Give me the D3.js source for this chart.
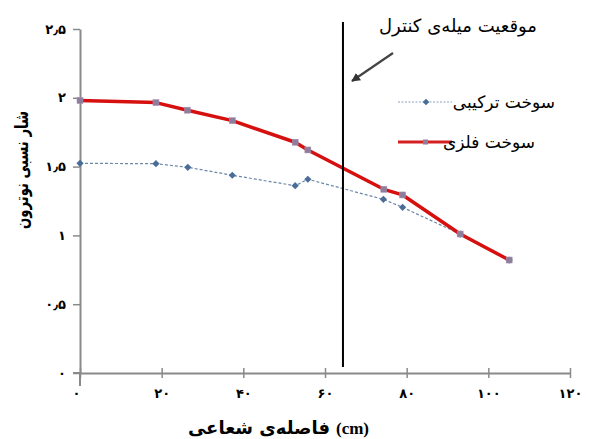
<!DOCTYPE html>
<html><head><meta charset="utf-8">
<script src="https://cdnjs.cloudflare.com/ajax/libs/d3/7.8.5/d3.min.js"></script>
<style>
html,body{margin:0;padding:0;background:#fff;}
svg{display:block;}
</style></head>
<body>
<svg id="c" width="598" height="439"></svg>
<script>
// Data
const xTicks = [0, 20, 40, 60, 80, 100, 120];
const xTickLabels = ["۰", "۲۰", "۴۰", "۶۰", "۸۰", "۱۰۰", "۱۲۰"];
const yTicks = [0, 0.5, 1, 1.5, 2, 2.5];
const yTickLabels = ["۰", "۰٫۵", "۱", "۱٫۵", "۲", "۲٫۵"];
const seriesNames = ["سوخت ترکیبی", "سوخت فلزی"];
const metalX = [0, 18.6, 26.3, 37.3, 52.7, 55.8, 74.4, 79.0, 93.1, 105.1];
const metalY = [1.98, 1.965, 1.91, 1.834, 1.677, 1.621, 1.335, 1.294, 1.01, 0.821];
const compX = [0, 18.6, 26.4, 37.3, 52.7, 55.8, 74.3, 79.0, 93.1, 105.1];
const compY = [1.524, 1.521, 1.495, 1.437, 1.361, 1.408, 1.262, 1.204, 1.01, 0.821];
const controlRodX = 64.4;
const annotation = "موقعیت میله‌ی کنترل";
const xTitleFa = "فاصله‌ی شعاعی";
const xTitleUnit = "(cm)";
const yTitle = "شار نسبی نوترون";

const svg = d3.select("#c");
const x = d3.scaleLinear().domain([0, 120]).range([80, 570]);
const y = d3.scaleLinear().domain([0, 2.5]).range([373, 29]);
const axisColor = "#8a8a8a";
const font = "'DejaVu Sans', sans-serif";

// axes
const xa = svg.append("g").attr("transform", "translate(0,373)")
  .call(d3.axisBottom(x).tickValues(xTicks).tickFormat((d, i) => xTickLabels[i]).tickSizeInner(5).tickSizeOuter(0));
xa.select(".domain").attr("stroke", axisColor).attr("stroke-width", 2);
xa.selectAll(".tick line").attr("stroke", axisColor).attr("stroke-width", 1.5).attr("y1", -5).attr("y2", 5);
xa.selectAll(".tick text").attr("font-family", font).attr("font-size", 13).attr("font-weight", "bold").attr("fill", "#000").attr("y", 16);
xa.select(".tick text").attr("x", -4);

const ya = svg.append("g").attr("transform", "translate(80,0)")
  .call(d3.axisLeft(y).tickValues(yTicks).tickFormat((d, i) => yTickLabels[i]).tickSizeInner(7).tickSizeOuter(0));
ya.select(".domain").attr("stroke", axisColor).attr("stroke-width", 2);
ya.selectAll(".tick line").attr("stroke", axisColor).attr("stroke-width", 1.5);
ya.selectAll(".tick text").attr("font-family", font).attr("font-size", 13).attr("font-weight", "bold").attr("fill", "#000").attr("x", -14);
// extend axes slightly
svg.append("line").attr("x1", 80).attr("x2", 80).attr("y1", 373).attr("y2", 386).attr("stroke", axisColor).attr("stroke-width", 2);
svg.append("line").attr("x1", 73).attr("x2", 80).attr("y1", 373).attr("y2", 373).attr("stroke", axisColor).attr("stroke-width", 2);

// compound fuel series
const comp = compX.map((v, i) => [v, compY[i]]);
const metal = metalX.map((v, i) => [v, metalY[i]]);
const line = d3.line().x(d => x(d[0])).y(d => y(d[1]));

svg.append("path").attr("d", line(comp)).attr("fill", "none")
  .attr("stroke", "#6c88a8").attr("stroke-width", 1.2).attr("stroke-dasharray", "3,2");
svg.selectAll(".cm").data(comp).enter().append("path")
  .attr("transform", d => `translate(${x(d[0])},${y(d[1])}) rotate(45)`)
  .attr("d", d3.symbol(d3.symbolSquare, 26)()).attr("fill", "#4a6d98");

// metal fuel series
svg.append("path").attr("d", line(metal)).attr("fill", "none")
  .attr("stroke", "#d60f0f").attr("stroke-width", 3.5).attr("stroke-linejoin", "round");
svg.selectAll(".mm").data(metal).enter().append("rect")
  .attr("x", d => x(d[0]) - 3).attr("y", d => y(d[1]) - 3).attr("width", 6).attr("height", 6)
  .attr("fill", "#8e7d9c").attr("stroke", "#a58fb0").attr("stroke-width", 0.5);

// control rod line
svg.append("line").attr("x1", x(controlRodX)).attr("x2", x(controlRodX))
  .attr("y1", 22).attr("y2", 367).attr("stroke", "#000").attr("stroke-width", 2);

// annotation
svg.append("text").attr("x", 537).attr("y", 32).attr("text-anchor", "end")
  .attr("font-family", font).attr("font-size", 18).attr("fill", "#000")
  .text(annotation);
svg.append("defs").append("marker").attr("id", "ah").attr("viewBox", "0 0 10 10")
  .attr("refX", 9).attr("refY", 5).attr("markerWidth", 4).attr("markerHeight", 4).attr("orient", "auto")
  .append("path").attr("d", "M0,0 L10,5 L0,10 Z").attr("fill", "#333");
svg.append("line").attr("x1", 393).attr("y1", 53).attr("x2", 352).attr("y2", 81)
  .attr("stroke", "#444").attr("stroke-width", 2.2).attr("marker-end", "url(#ah)");

// legend
const leg = [{name: seriesNames[0], y: 102, type: "comp"}, {name: seriesNames[1], y: 142, type: "metal"}];
leg.forEach(l => {
  if (l.type === "comp") {
    svg.append("line").attr("x1", 398).attr("x2", 452).attr("y1", l.y).attr("y2", l.y)
      .attr("stroke", "#8aa4c0").attr("stroke-width", 1.2).attr("stroke-dasharray", "2,1.5");
    svg.append("path").attr("transform", `translate(426,${l.y}) rotate(45)`)
      .attr("d", d3.symbol(d3.symbolSquare, 22)()).attr("fill", "#4a6d98");
  } else {
    svg.append("line").attr("x1", 398).attr("x2", 452).attr("y1", l.y).attr("y2", l.y)
      .attr("stroke", "#d62020").attr("stroke-width", 3);
    svg.append("rect").attr("x", 423).attr("y", l.y - 2.5).attr("width", 5).attr("height", 5).attr("fill", "#8e7d9c");
  }
  svg.append("text").attr("x", l.type === "comp" ? 555 : 535).attr("y", l.y + 6).attr("text-anchor", "end")
    .attr("font-family", font).attr("font-size", 17).attr("fill", "#000")
    .text(l.name);
});

// axis titles
svg.append("text").attr("x", 330).attr("y", 434).attr("text-anchor", "end")
  .attr("font-family", font).attr("font-size", 18).attr("font-weight", "bold").attr("fill", "#000")
  .text(xTitleFa);
svg.append("text").attr("x", 336).attr("y", 434).attr("text-anchor", "start")
  .attr("font-family", "'Liberation Serif', serif").attr("font-size", 17).attr("font-weight", "bold").attr("fill", "#000")
  .text(xTitleUnit);
svg.append("text").attr("transform", "translate(28,170) rotate(-90)").attr("text-anchor", "middle")
  .attr("font-family", font).attr("font-size", 18).attr("font-weight", "bold").attr("fill", "#000")
  .attr("textLength", 118).attr("lengthAdjust", "spacingAndGlyphs")
  .text(yTitle);
</script>
</body></html>
